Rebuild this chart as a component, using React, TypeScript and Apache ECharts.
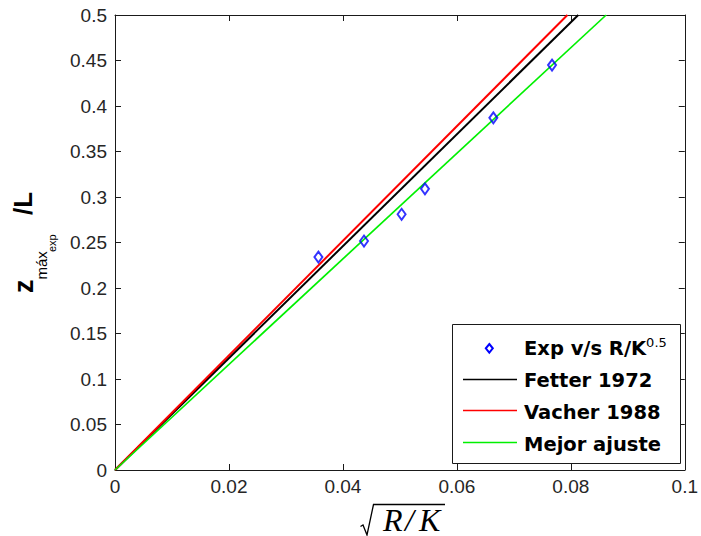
import React, { useEffect, useRef } from 'react';
import * as echarts from 'echarts';

// ---- data ----
const expX = [0.0357, 0.0437, 0.0503, 0.0544, 0.0664, 0.0767];
const expY = [0.234, 0.2516, 0.281, 0.309, 0.387, 0.445];
const fetterX = [0, 0.0813];
const fetterY = [0, 0.5];
const vacherX = [0, 0.0794];
const vacherY = [0, 0.5];
const ajusteX = [0, 0.0862];
const ajusteY = [0, 0.5];

const xTickLabels = ['0', '0.02', '0.04', '0.06', '0.08', '0.1'];
const yTickLabels = ['0', '0.05', '0.1', '0.15', '0.2', '0.25', '0.3', '0.35', '0.4', '0.45', '0.5'];
const seriesNames = ['Exp v/s R/K', 'Fetter 1972', 'Vacher 1988', 'Mejor ajuste'];

const X_MIN = 0, X_MAX = 0.1, X_STEP = 0.02;
const Y_MIN = 0, Y_MAX = 0.5, Y_STEP = 0.05;

const AX = '#1a1a1a';
const TICK_FONT = '"Liberation Sans", Arial, Helvetica, sans-serif';
const LEG_FONT = '"DejaVu Sans", Verdana, sans-serif';
const SERIF = '"Liberation Serif", "Times New Roman", serif';

function pairs(xs: number[], ys: number[]) {
  return xs.map((x, i) => [x, ys[i]]);
}

function makeAxis(kind: 'x' | 'y', position: string, showLabel: boolean) {
  const isX = kind === 'x';
  const labels = isX ? xTickLabels : yTickLabels;
  const step = isX ? X_STEP : Y_STEP;
  return {
    type: 'value',
    position,
    min: isX ? X_MIN : Y_MIN,
    max: isX ? X_MAX : Y_MAX,
    interval: step,
    axisLine: { show: true, onZero: false, lineStyle: { color: AX, width: 1 } },
    axisTick: { show: true, inside: true, length: 6, lineStyle: { color: AX, width: 1 } },
    splitLine: { show: false },
    axisLabel: {
      show: showLabel,
      margin: isX ? 7 : 8,
      color: '#262626',
      fontFamily: TICK_FONT,
      fontSize: 19,
      formatter: (v: number) => labels[Math.round(v / step)] ?? '',
    },
  };
}

// rotated text helper: (sx, sy) is the screen point of the text's left/middle anchor
function vtext(sx: number, sy: number, text: string, font: string) {
  return {
    type: 'text',
    x: sx,
    y: sy,
    rotation: Math.PI / 2,
    style: { text, font, fill: '#000', align: 'left', verticalAlign: 'middle' },
  };
}

const option = {
  animation: false,
  backgroundColor: '#ffffff',
  grid: { left: 115, right: 11, top: 15, bottom: 66, containLabel: false },
  xAxis: [makeAxis('x', 'bottom', true), makeAxis('x', 'top', false)],
  yAxis: [makeAxis('y', 'left', true), makeAxis('y', 'right', false)],
  series: [
    {
      name: seriesNames[1],
      type: 'line',
      data: pairs(fetterX, fetterY),
      showSymbol: false,
      symbol: 'none',
      lineStyle: { color: '#000000', width: 2 },
      z: 2,
    },
    {
      name: seriesNames[2],
      type: 'line',
      data: pairs(vacherX, vacherY),
      showSymbol: false,
      symbol: 'none',
      lineStyle: { color: '#ff0000', width: 2 },
      z: 3,
    },
    {
      name: seriesNames[3],
      type: 'line',
      data: pairs(ajusteX, ajusteY),
      showSymbol: false,
      symbol: 'none',
      lineStyle: { color: '#00f000', width: 1.7 },
      z: 4,
    },
    {
      name: seriesNames[0],
      type: 'scatter',
      data: pairs(expX, expY),
      symbol: 'diamond',
      symbolSize: [8, 11],
      itemStyle: { color: 'rgba(0,0,0,0)', borderColor: '#0000ff', borderWidth: 2 },
      z: 5,
    },
  ],
  graphic: [
    // y-axis title: z_{máx_{exp}}/L, rotated to read bottom-to-top
    vtext(23.5, 293, 'z', `bold 27px ${TICK_FONT}`),
    vtext(41.8, 279.5, 'máx', `15px ${TICK_FONT}`),
    vtext(52.2, 252, 'exp', `11px ${TICK_FONT}`),
    vtext(22.8, 215, '/L', `bold 26px ${TICK_FONT}`),
    // x-axis title: sqrt(R/K)
    {
      type: 'polyline',
      shape: { points: [[360.5, 526.5], [363, 525], [367, 535], [373.5, 504.5], [445, 504.5]] },
      style: { stroke: '#000', lineWidth: 1.3, fill: 'none' },
    },
    { type: 'text', x: 383, y: 519.5, style: { text: 'R', font: `italic 32px ${SERIF}`, fill: '#000', align: 'left', verticalAlign: 'middle' } },
    { type: 'text', x: 405, y: 519.5, style: { text: '/', font: `italic 32px ${SERIF}`, fill: '#000', align: 'left', verticalAlign: 'middle' } },
    { type: 'text', x: 419, y: 519.5, style: { text: 'K', font: `italic 32px ${SERIF}`, fill: '#000', align: 'left', verticalAlign: 'middle' } },
    // legend
    {
      type: 'rect',
      z: 10,
      shape: { x: 452.5, y: 324.5, width: 228, height: 139 },
      style: { fill: '#ffffff', stroke: AX, lineWidth: 1 },
    },
    {
      type: 'polygon',
      z: 11,
      shape: { points: [[489.3, 344], [492.8, 348.3], [489.3, 352.6], [485.8, 348.3]] },
      style: { fill: 'none', stroke: '#0000ff', lineWidth: 2 },
    },
    { type: 'line', z: 11, shape: { x1: 463, y1: 379.5, x2: 517, y2: 379.5 }, style: { stroke: '#000000', lineWidth: 1.5 } },
    { type: 'line', z: 11, shape: { x1: 463, y1: 410.5, x2: 517, y2: 410.5 }, style: { stroke: '#ff0000', lineWidth: 1.5 } },
    { type: 'line', z: 11, shape: { x1: 463, y1: 442.5, x2: 517, y2: 442.5 }, style: { stroke: '#00f000', lineWidth: 1.5 } },
    {
      type: 'text',
      z: 11,
      x: 524,
      y: 348,
      style: {
        text: `{a|${seriesNames[0]}}{b|0.5}`,
        align: 'left',
        verticalAlign: 'middle',
        rich: {
          a: { font: `bold 19.5px ${LEG_FONT}`, fill: '#000', lineHeight: 24 },
          b: { font: `13px ${LEG_FONT}`, fill: '#000', lineHeight: 13, verticalAlign: 'top' },
        },
      },
    },
    { type: 'text', z: 11, x: 524, y: 380.8, style: { text: seriesNames[1], font: `bold 19.5px ${LEG_FONT}`, fill: '#000', align: 'left', verticalAlign: 'middle' } },
    { type: 'text', z: 11, x: 524, y: 412.5, style: { text: seriesNames[2], font: `bold 19.5px ${LEG_FONT}`, fill: '#000', align: 'left', verticalAlign: 'middle' } },
    { type: 'text', z: 11, x: 524, y: 444.8, style: { text: seriesNames[3], font: `bold 19.5px ${LEG_FONT}`, fill: '#000', align: 'left', verticalAlign: 'middle' } },
  ],
};

export default function App() {
  const ref = useRef<HTMLDivElement>(null);
  useEffect(() => {
    document.body.style.margin = '0';
    const chart = echarts.init(ref.current as HTMLDivElement, null, { renderer: 'svg' });
    chart.setOption(option as any);
    return () => chart.dispose();
  }, []);
  return <div ref={ref} style={{ width: 701, height: 536 }} />;
}
